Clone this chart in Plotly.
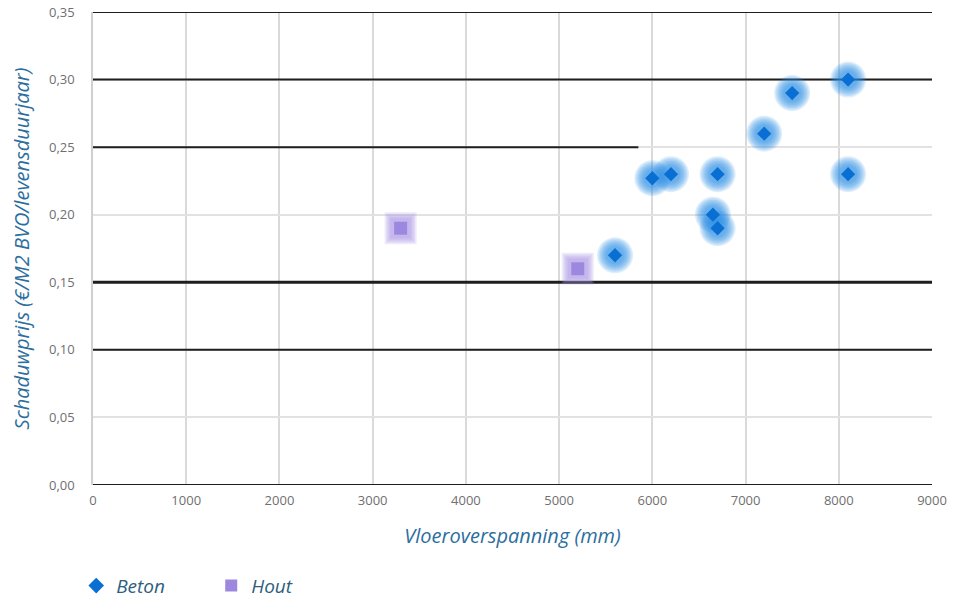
import plotly.graph_objects as go

# Floor span (mm) vs shadow price per m2 GFA per service-life year
beton_span = [6000, 6200, 6700, 7200, 7500, 8100, 8100, 6650, 6700, 5600]
beton_price = [0.227, 0.230, 0.230, 0.260, 0.290, 0.300, 0.230, 0.200, 0.190, 0.170]

hout_span = [3300, 5200]
hout_price = [0.190, 0.160]

x_ticks = [0, 1000, 2000, 3000, 4000, 5000, 6000, 7000, 8000, 9000]
y_ticks = [0.00, 0.05, 0.10, 0.15, 0.20, 0.25, 0.30, 0.35]

# heavier horizontal rules
dark_levels = [0.00, 0.10, 0.15, 0.30, 0.35]

BLUE = "#0a6fd2"
PURPLE = "#9d88e0"
TITLE_COLOR = "#2c6e9e"
LEGEND_COLOR = "#2d5e80"
TICK_COLOR = "#6f6f6f"

fig = go.Figure()

# soft halo under the blue diamonds (stacked translucent discs)
for size in [36, 33, 30, 27, 24, 21, 18]:
    fig.add_trace(go.Scatter(
        x=beton_span, y=beton_price, mode="markers", showlegend=False, hoverinfo="skip",
        marker=dict(symbol="circle", size=size, color="rgba(45,145,228,0.16)", line=dict(width=0)),
    ))
fig.add_trace(go.Scatter(
    x=beton_span, y=beton_price, mode="markers", name="Beton",
    marker=dict(symbol="diamond", size=11, color=BLUE, line=dict(width=0)),
))

# soft halo under the purple squares
for size in [32, 29, 26, 23, 20]:
    fig.add_trace(go.Scatter(
        x=hout_span, y=hout_price, mode="markers", showlegend=False, hoverinfo="skip",
        marker=dict(symbol="square", size=size, color="rgba(170,150,232,0.20)", line=dict(width=0)),
    ))
fig.add_trace(go.Scatter(
    x=hout_span, y=hout_price, mode="markers", name="Hout",
    marker=dict(symbol="square", size=13, color=PURPLE, line=dict(width=0)),
))

shapes = []
for lvl in dark_levels:
    shapes.append(dict(type="line", xref="x", x0=0, x1=9000, yref="y", y0=lvl, y1=lvl,
                       line=dict(color="#1e1e1e", width=2 if lvl != 0.15 else 3), layer="between"))
shapes.append(dict(type="line", xref="x", x0=0, x1=5850, yref="y", y0=0.25, y1=0.25,
                   line=dict(color="#1e1e1e", width=2), layer="between"))

fig.update_layout(
    width=962, height=598,
    margin=dict(l=93, r=30, t=12, b=113, autoexpand=False),
    paper_bgcolor="white", plot_bgcolor="white",
    separators=",.",
    font=dict(family="Open Sans", size=13, color=TICK_COLOR),
    shapes=shapes,
    showlegend=True,
    legend=dict(
        orientation="h", x=-0.02, xanchor="left", y=-0.213, yanchor="middle",
        font=dict(family="Open Sans", size=19, color=LEGEND_COLOR, style="italic"),
        entrywidth=90, entrywidthmode="pixels", itemsizing="constant",
    ),
    xaxis=dict(
        range=[0, 9000], tickvals=x_ticks, tickformat="d", automargin=False,
        showgrid=True, gridcolor="#dadada", gridwidth=1.5,
        zeroline=False, showline=False, ticks="",
        tickfont=dict(family="Open Sans", size=13, color=TICK_COLOR),
        ticklabelstandoff=6,
        title=dict(text="Vloeroverspanning (mm)", standoff=20,
                   font=dict(family="Open Sans", size=20, color=TITLE_COLOR, style="italic")),
    ),
    yaxis=dict(
        range=[0, 0.35], tickvals=y_ticks, tickformat=".2f", automargin=False,
        showgrid=True, gridcolor="#e2e2e2", gridwidth=1.5,
        zeroline=False, showline=True, linecolor="#d0d0d0", linewidth=1.5, ticks="",
        tickfont=dict(family="Open Sans", size=13, color=TICK_COLOR),
        ticklabelstandoff=14,
        title=dict(text="Schaduwprijs (€/M2 BVO/levensduurjaar)", standoff=14,
                   font=dict(family="Open Sans", size=20, color=TITLE_COLOR, style="italic")),
    ),
)

fig.write_html("out.html")
